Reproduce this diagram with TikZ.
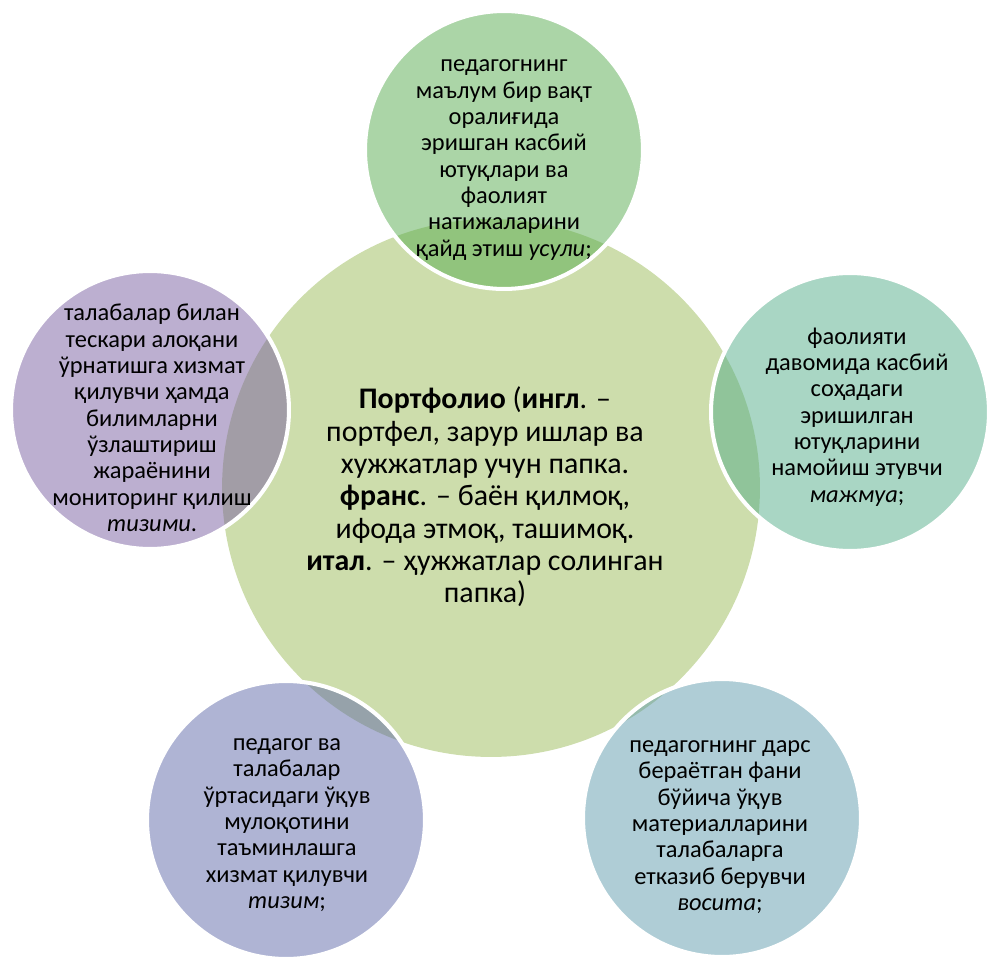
\documentclass[tikz,border=0pt]{standalone}
\usepackage{fontspec}
\setmainfont{Carlito}
\usepackage{xcolor}
\usetikzlibrary{positioning}

\definecolor{hubgreen}{RGB}{155,187,89}
\definecolor{topgreen}{RGB}{87,171,79}
\definecolor{mintgreen}{RGB}{83,173,137}
\definecolor{steelblue}{RGB}{95,155,173}
\definecolor{slateblue}{RGB}{95,105,169}
\definecolor{plumpurple}{RGB}{121,95,161}

\begin{document}
\begin{tikzpicture}[
    x=0.02cm, y=-0.02cm,
    hub/.style      = {circle, fill=hubgreen, fill opacity=0.5,
                       minimum size=10.76cm, inner sep=0pt},
    petal/.style    = {circle, draw=white, line width=2.3pt, fill opacity=0.5,
                       draw opacity=1, minimum size=5.56cm, inner sep=0pt},
    hubtext/.style  = {align=center, inner sep=0pt,
                       font=\fontsize{17}{18.4}\selectfont},
    petaltext/.style= {align=center, inner sep=0pt,
                       font=\fontsize{13.9}{15}\selectfont},
]
\useasboundingbox (0,0) rectangle (987,959);

% ============================ centre circle ============================
\node[hub] (hub) at (491,488) {};
\node[hubtext] (hub-t) at (485,497) {%
  \textbf{Портфолио} (\textbf{ингл}. –\\
  портфел, зарур ишлар ва\\
  хужжатлар учун папка.\\
  \textbf{франс}. – баён қилмоқ,\\
  ифода этмоқ, ташимоқ.\\
  \textbf{итал}. – ҳужжатлар солинган\\
  папка)};

% ============================ outer circles ============================
\node[petal, fill=topgreen]   (usul)   at (504,150) {};
\node[petal, fill=mintgreen]  (majmua) at (850,412) {};
\node[petal, fill=steelblue]  (vosita) at (722,818) {};
\node[petal, fill=slateblue]  (tizim)  at (286,820) {};
\node[petal, fill=plumpurple] (tizimi) at (150,410) {};

% texts of the outer circles
\node[petaltext] (usul-t) at (504,160) {%
  педагогнинг\\ маълум бир вақт\\ оралиғида\\ эришган касбий\\
  ютуқлари ва\\ фаолият\\ натижаларини\\ қайд этиш \textit{усули};};

\node[petaltext] (majmua-t) at (857,417) {%
  фаолияти\\ давомида касбий\\ соҳадаги\\ эришилган\\
  ютуқларини\\ намойиш этувчи\\ \textit{мажмуа};};

\node[petaltext] (vosita-t) at (720,827) {%
  педагогнинг дарс\\ бераётган фани\\ бўйича ўқув\\ материалларини\\
  талабаларга\\ етказиб берувчи\\ \textit{восита};};

\node[petaltext] (tizim-t) at (287,825) {%
  педагог ва\\ талабалар\\ ўртасидаги ўқув\\ мулоқотини\\
  таъминлашга\\ хизмат қилувчи\\ \textit{тизим};};

\node[petaltext] (tizimi-t) at (152,418) {%
  талабалар билан\\ тескари алоқани\\ ўрнатишга хизмат\\ қилувчи ҳамда\\
  билимларни\\ ўзлаштириш\\ жараёнини\\ мониторинг қилиш\\ \textit{тизими}.};

\end{tikzpicture}
\end{document}
